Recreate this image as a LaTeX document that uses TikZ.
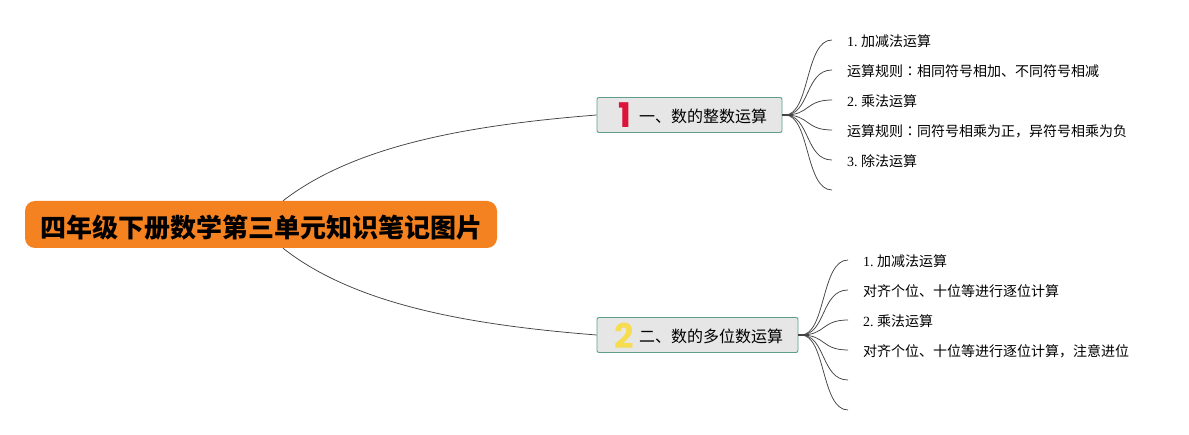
\documentclass[tikz,border=0pt]{standalone}
\usepackage{fontspec}
\setmainfont{Liberation Serif}
\newfontfamily\cjk{Noto Sans CJK SC}
\newfontfamily\cjkcolon{Noto Sans CJK TC}
\newfontfamily\badgefont{Poppins}
\definecolor{rootorange}{HTML}{F58220}
\definecolor{branchgray}{HTML}{E6E6E6}
\definecolor{branchedge}{HTML}{5F9E8B}
\definecolor{badgered}{HTML}{DC143C}
\definecolor{badgeyellow}{HTML}{F5DC50}
\definecolor{linkgray}{HTML}{444444}
\tikzset{
    rootnode/.style={draw=none, fill=rootorange, rounded corners=10pt, minimum width=472pt, minimum height=47pt, inner sep=0pt, font=\cjk\bfseries\fontsize{26}{26}\selectfont, text=black},
    branchnode/.style={draw=branchedge, fill=branchgray, rounded corners=2pt, line width=0.9pt, minimum height=35pt, inner sep=0pt},
    branchtext/.style={inner sep=0pt, anchor=west, font=\cjk\fontsize{16}{16}\selectfont},
    badge/.style={inner sep=0pt, font=\badgefont\bfseries\fontsize{34}{34}\selectfont},
    leaftext/.style={inner sep=0pt, anchor=west, font=\cjk\fontsize{14}{14}\selectfont},
    link/.style={draw=linkgray, line width=0.75pt},
    stub/.style={draw=linkgray, line width=1.6pt}
}
\newcommand{\numlab}[1]{{\rmfamily #1}\hspace{3.5pt}}
\newcommand{\colonlab}{{\cjkcolon ：}}
\begin{document}
\begin{tikzpicture}[x=1pt, y=-1pt]
    \useasboundingbox (0, 0) rectangle (1189, 435);
    \fill[white] (0, 0) rectangle (1189, 435);

    \node[rootnode] (root) at (261, 224.5) {\raisebox{-13pt}[0pt][0pt]{四年级下册数学第三单元知识笔记图片}};

    \node[branchnode, minimum width=185pt] (bra) at (689.5, 115) {};
    \node[branchnode, minimum width=201pt] (brb) at (697.5, 335) {};

    \node[badge, text=badgered] (numa) at (624.5, 115) {1};
    \node[badge, text=badgeyellow] (numb) at (624, 336) {2};
    \node[branchtext] (texta) at (639, 116) {一、数的整数运算};
    \node[branchtext] (textb) at (639, 336) {二、数的多位数运算};

    \draw[link] ([xshift=22pt]root.north) .. controls (355, 145) and (470, 125) .. (bra.west);
    \draw[link] ([xshift=22pt]root.south) .. controls (355, 305) and (470, 325) .. (brb.west);

    \coordinate (huba) at (791, 115);
    \coordinate (hubb) at (807, 335);
    \draw[stub] (bra.east) to (huba);
    \draw[stub] (brb.east) to (hubb);

    \foreach \i/\y in {1/40, 2/70, 3/100, 4/130, 5/160, 6/190}{
        \coordinate (enda\i) at (832, \y);
        \draw[link] (785, 115) .. controls (810, 115) and (805, \y) .. (enda\i);
    }
    \foreach \i/\y in {1/260, 2/290, 3/320, 4/350, 5/380, 6/410}{
        \coordinate (endb\i) at (848, \y);
        \draw[link] (801, 335) .. controls (826, 335) and (821, \y) .. (endb\i);
    }

    \node[leaftext] (la1) at (847, 41) {\numlab{1.}加减法运算};
    \node[leaftext] (la2) at (847, 71) {运算规则\colonlab 相同符号相加、不同符号相减};
    \node[leaftext] (la3) at (847, 101) {\numlab{2.}乘法运算};
    \node[leaftext] (la4) at (847, 131) {运算规则\colonlab 同符号相乘为正，异符号相乘为负};
    \node[leaftext] (la5) at (847, 161) {\numlab{3.}除法运算};

    \node[leaftext] (lb1) at (863, 261) {\numlab{1.}加减法运算};
    \node[leaftext] (lb2) at (863, 291) {对齐个位、十位等进行逐位计算};
    \node[leaftext] (lb3) at (863, 321) {\numlab{2.}乘法运算};
    \node[leaftext] (lb4) at (863, 351) {对齐个位、十位等进行逐位计算，注意进位};
\end{tikzpicture}
\end{document}
